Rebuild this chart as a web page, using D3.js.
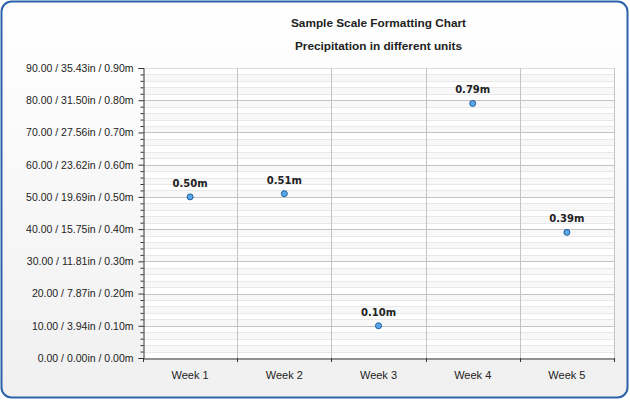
<!DOCTYPE html>
<html><head><meta charset="utf-8">
<script src="https://cdn.jsdelivr.net/npm/d3@7"></script>
<style>body{margin:0;background:#fff}svg{display:block}</style>
</head><body>
<script>
const categories = ["Week 1","Week 2","Week 3","Week 4","Week 5"];
const values = [50, 51, 10, 79, 39];
const pointLabels = ["0.50m","0.51m","0.10m","0.79m","0.39m"];
const yTicks = [0,10,20,30,40,50,60,70,80,90];
const yTickLabels = ["0.00 / 0.00in / 0.00m","10.00 / 3.94in / 0.10m","20.00 / 7.87in / 0.20m","30.00 / 11.81in / 0.30m","40.00 / 15.75in / 0.40m","50.00 / 19.69in / 0.50m","60.00 / 23.62in / 0.60m","70.00 / 27.56in / 0.70m","80.00 / 31.50in / 0.80m","90.00 / 35.43in / 0.90m"];
const minorTicks = d3.range(0, 91, 2);
const title = "Sample Scale Formatting Chart";
const subtitle = "Precipitation in different units";

const W = 630, H = 401;
const m = {left:143, right:614, top:68, bottom:358};
const svg = d3.select("body").append("svg").attr("width", W).attr("height", H);
const defs = svg.append("defs");
const g1 = defs.append("linearGradient").attr("id","bg").attr("x1",0).attr("y1",0).attr("x2",0).attr("y2",1);
g1.append("stop").attr("offset","0%").attr("stop-color","#ffffff");
g1.append("stop").attr("offset","100%").attr("stop-color","#f0f0f0");

svg.append("rect").attr("x",1.5).attr("y",1.5).attr("width",626).attr("height",396)
  .attr("rx",10).attr("ry",10).attr("fill","url(#bg)").attr("stroke","#2b62aa").attr("stroke-width",2);

const x = d3.scaleBand().domain(categories).range([m.left, m.right]);
const y = d3.scaleLinear().domain([0,90]).range([m.bottom, m.top]);

svg.append("rect").attr("x",m.left).attr("y",m.top).attr("width",m.right-m.left).attr("height",m.bottom-m.top).attr("fill","#ffffff");
const bands = minorTicks.slice(0,-1).filter((d,i)=>i%2===1);
svg.append("g").selectAll("rect").data(bands).join("rect")
  .attr("x",m.left).attr("width",m.right-m.left)
  .attr("y",d=>y(d+2)).attr("height",d=>y(d)-y(d+2)).attr("fill","#f8f8f8");
svg.append("g").selectAll("line").data(minorTicks.filter(d=>d%10!==0)).join("line")
  .attr("x1",m.left).attr("x2",m.right).attr("y1",d=>Math.round(y(d))+0.5).attr("y2",d=>Math.round(y(d))+0.5)
  .attr("stroke","#e8e8e8");
svg.append("g").selectAll("line").data(yTicks.filter(d=>d>0)).join("line")
  .attr("x1",m.left).attr("x2",m.right).attr("y1",d=>Math.round(y(d))+0.5).attr("y2",d=>Math.round(y(d))+0.5)
  .attr("stroke",d=>d===90?"#dcdcdc":"#c4c4c4");
const bounds = categories.map(c=>x(c)).concat([m.right]);
svg.append("g").selectAll("line").data(bounds.slice(1)).join("line")
  .attr("x1",d=>Math.round(d)+0.5).attr("x2",d=>Math.round(d)+0.5).attr("y1",m.top).attr("y2",m.bottom)
  .attr("stroke","#c4c4c4");

const yAxis = d3.axisLeft(y).tickValues(yTicks).tickSize(5).tickPadding(5)
  .tickFormat((d,i)=>yTickLabels[i]);
const ya = svg.append("g").attr("transform",`translate(${m.left+0.5},0)`).call(yAxis);
ya.select(".domain").attr("stroke","#333");
ya.selectAll(".tick line").attr("stroke","#333");
ya.selectAll("text").attr("font-family","'Liberation Sans', Arial, sans-serif").attr("font-size","10.5px").attr("fill","#222");
const yMinor = d3.axisLeft(y).tickValues(minorTicks.filter(d=>d%10!==0)).tickSize(3).tickFormat("");
const ym = svg.append("g").attr("transform",`translate(${m.left+0.5},0)`).call(yMinor);
ym.select(".domain").remove();
ym.selectAll(".tick line").attr("stroke","#333");

const xa = svg.append("g").attr("transform",`translate(0,${m.bottom+0.5})`)
  .call(d3.axisBottom(x).tickSize(0).tickPadding(13));
xa.select(".domain").attr("stroke","#333");
xa.selectAll("text").attr("font-family","'Liberation Sans', Arial, sans-serif").attr("font-size","11px").attr("fill","#222");
svg.append("g").selectAll("line").data(bounds).join("line")
  .attr("x1",d=>Math.round(d)+0.5).attr("x2",d=>Math.round(d)+0.5).attr("y1",m.bottom).attr("y2",m.bottom+4)
  .attr("stroke","#333");

const px = c => x(c) + x.bandwidth()/2;
svg.append("g").selectAll("circle").data(values).join("circle")
  .attr("cx",(d,i)=>px(categories[i])).attr("cy",d=>y(d)).attr("r",3)
  .attr("fill","#5aa8e8").attr("stroke","#1d5c9c").attr("stroke-width",1);
svg.append("g").selectAll("text").data(values).join("text")
  .attr("x",(d,i)=>px(categories[i])).attr("y",d=>y(d)-10)
  .attr("text-anchor","middle").attr("font-family","'DejaVu Sans', Verdana, sans-serif")
  .attr("font-weight","bold").attr("font-size","10px").attr("fill","#222")
  .text((d,i)=>pointLabels[i]);

const cx = (m.left+m.right)/2;
svg.append("text").attr("x",cx).attr("y",27).attr("text-anchor","middle")
  .attr("font-family","'Liberation Sans', Arial, sans-serif").attr("font-weight","bold").attr("font-size","11.8px").attr("fill","#222").text(title);
svg.append("text").attr("x",cx).attr("y",50).attr("text-anchor","middle")
  .attr("font-family","'Liberation Sans', Arial, sans-serif").attr("font-weight","bold").attr("font-size","11.8px").attr("fill","#222").text(subtitle);
</script>
</body></html>
